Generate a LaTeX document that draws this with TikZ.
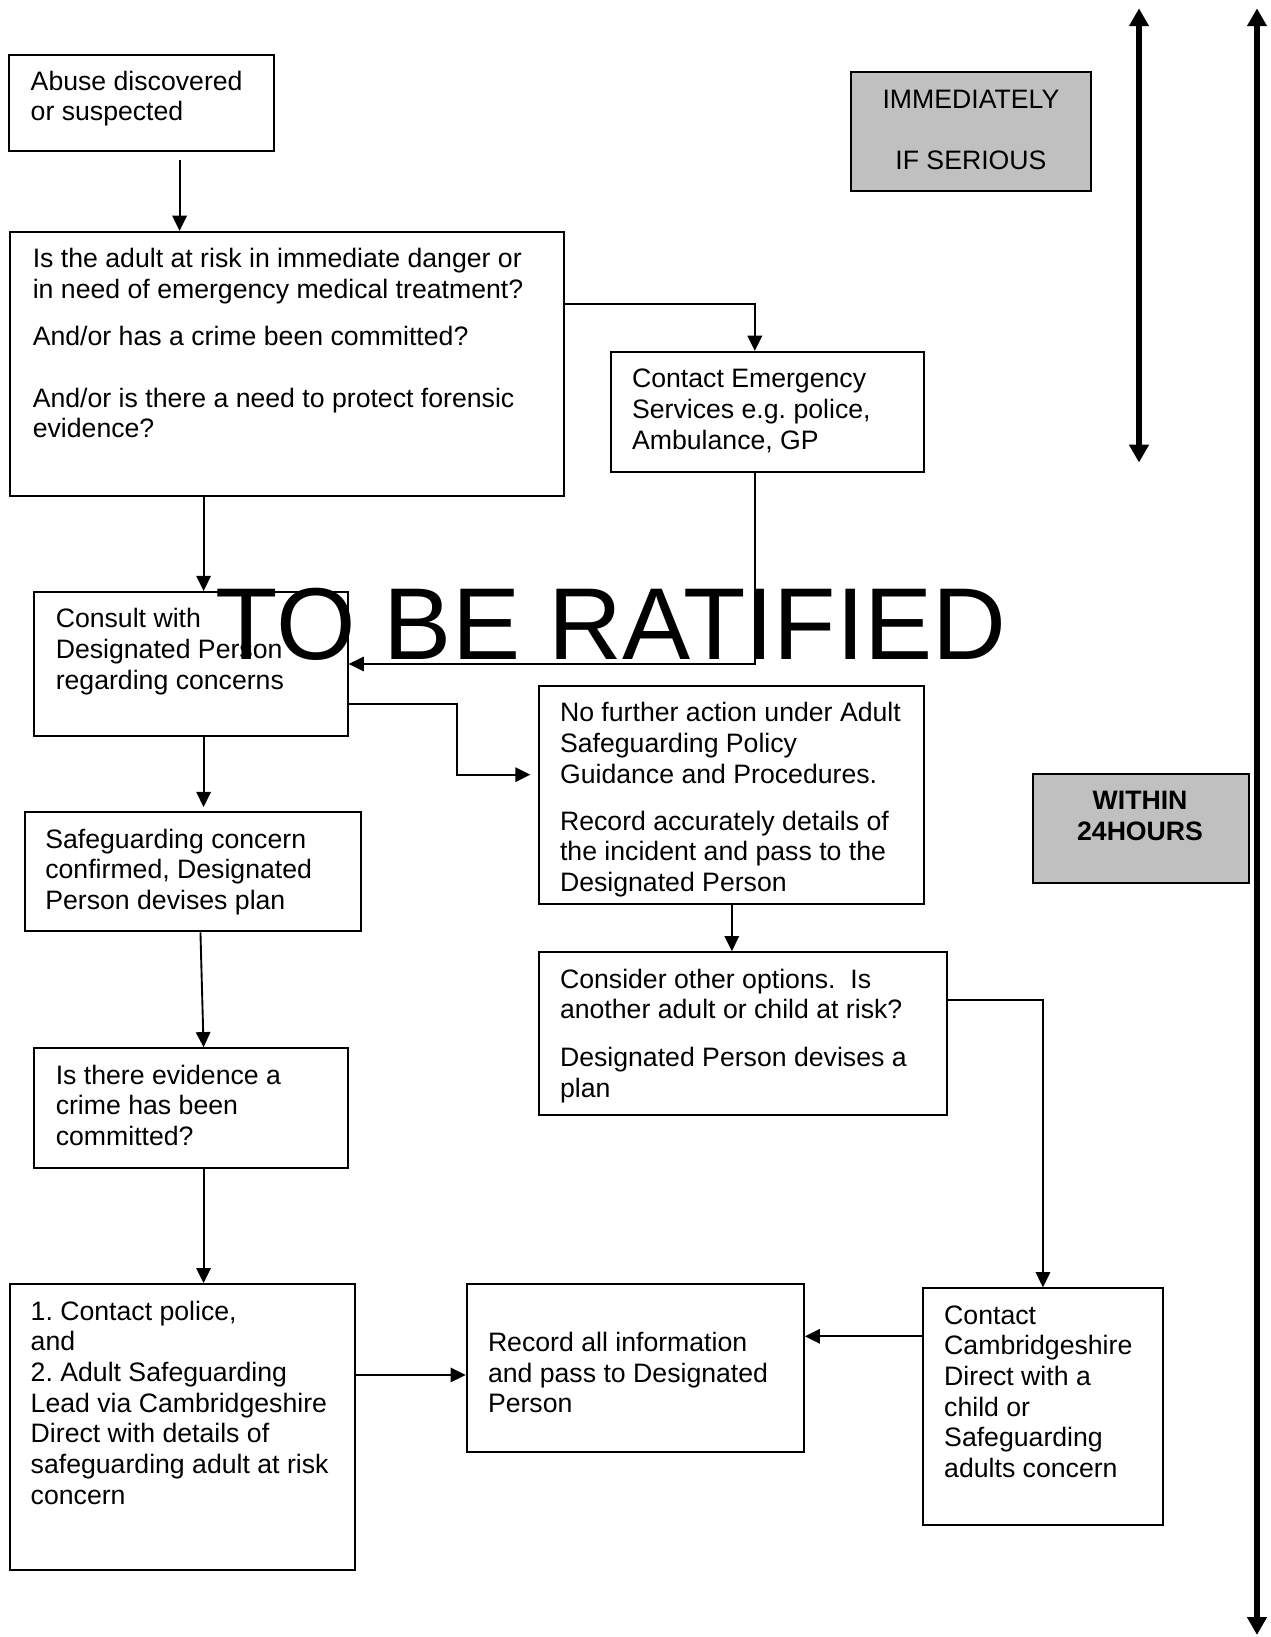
\documentclass[tikz,border=0pt]{standalone}
\usepackage{fontspec}
\setmainfont{Liberation Sans}
\usetikzlibrary{arrows.meta,fit}
\definecolor{silverg}{RGB}{192,192,192}
\frenchspacing
\begin{document}
\begin{tikzpicture}[x=0.47pt,y=-0.47pt,
  box/.style={draw, line width=0.9pt, inner sep=0pt},
  gbox/.style={box, fill=silverg},
  txt/.style={anchor=north west, inner sep=0pt, align=left, font=\fontsize{12}{13.8}\selectfont},
  ctxt/.style={anchor=north, inner sep=0pt, align=center, font=\fontsize{12}{13.8}\selectfont},
  arr/.style={line width=0.85pt, -{Triangle[length=6.8pt,width=6.5pt]}},
  big/.style={line width=3pt, {Triangle[length=8pt,width=8.5pt]}-{Triangle[length=8pt,width=8.5pt]}}]
\useasboundingbox (0,0) rectangle (1217,1568);

% boxes
\node[box, fit={(9,53) (262,145)}] (A) {};
\node[box, fit={(10,222) (540,475)}] (B) {};
\node[box, fit={(585,337) (885,452)}] (C) {};
\node[box, fit={(33,567) (333,705)}] (D) {};
\node[box, fit={(516,657) (885,866)}] (E) {};
\node[box, fit={(516,912) (907,1068)}] (F) {};
\node[box, fit={(24,778) (346,892)}] (G) {};
\node[box, fit={(33,1004) (333,1119)}] (H) {};
\node[box, fit={(10,1230) (340,1504)}] (I) {};
\node[box, fit={(447,1230) (770,1391)}] (K) {};
\node[box, fit={(884,1234) (1114,1461)}] (J) {};
\node[gbox, fit={(815,69) (1045,183)}] (G1) {};
\node[gbox, fit={(989,741) (1196,846)}] (G2) {};

% texts
\node[txt] (tA) at (29,65.5) {\strut Abuse discovered\\or suspected};
\node[txt] (tB) at (31,235.5) {\strut Is the adult at risk in immediate danger or\\in need of emergency medical treatment?\\[7.4pt]And/or has a crime been committed?\\[14pt]And/or is there a need to protect forensic\\evidence?};
\node[txt] (tC) at (605,350.5) {\strut Contact Emergency\\Services e.g. police,\\Ambulance, GP};
\node[txt] (tD) at (53,580.5) {\strut Consult with\\Designated Person\\regarding concerns};
\node[txt] (tE) at (536,670.5) {\strut No further action under Adult\\Safeguarding Policy\\Guidance and Procedures.\\[7.4pt]Record accurately details of\\the incident and pass to the\\Designated Person};
\node[txt] (tF) at (536,925.5) {\strut Consider other options.\ \ Is\\another adult or child at risk?\\[7.9pt]Designated Person devises a\\plan};
\node[txt] (tG) at (43,791.5) {\strut Safeguarding concern\\confirmed, Designated\\Person devises plan};
\node[txt] (tH) at (53,1017.5) {\strut Is there evidence a\\crime has been\\committed?};
\node[txt] (tI) at (29,1243.5) {\strut 1. Contact police,\\and\\2. Adult Safeguarding\\Lead via Cambridgeshire\\Direct with details of\\safeguarding adult at risk\\concern};
\node[txt] (tK) at (467,1273.5) {\strut Record all information\\and pass to Designated\\Person};
\node[txt] (tJ) at (904,1247.5) {\strut Contact\\Cambridgeshire\\Direct with a\\child or\\Safeguarding\\adults concern};
\node[ctxt] (tG1) at (930,82.5) {\strut IMMEDIATELY\\[13.8pt]IF SERIOUS};
\node[ctxt, font=\fontsize{12}{13.8}\selectfont\bfseries] (tG2) at (1092,754.5) {\strut WITHIN\\24HOURS};

% connectors
\coordinate (c1) at (172,153);
\draw[arr] (c1) -- (c1 |- B.north);
\coordinate (c2) at (723,291);
\draw[arr] (B.east |- c2) -| (c2 |- C.north);
\coordinate (c3) at (723,636);
\draw[arr] (c3 |- C.south) |- (D.east |- c3);
\coordinate (c4) at (195,520);
\draw[arr] (B.south -| c4) -- (D.north -| c4);
\coordinate (c5) at (438,674);
\coordinate (c5b) at (508,742);
\draw[arr] (D.east |- c5) -- (c5) |- (c5b);
\coordinate (c6) at (195,773);
\draw[arr] (D.south -| c6) -- (c6);
\coordinate (c7a) at (192,892);
\coordinate (c7b) at (195,950);
\draw[arr] (G.south -| c7a) -- (H.north -| c7b);
\draw[arr] (H.south -| c7b) -- (I.north -| c7b);
\coordinate (c9) at (400,1317);
\draw[arr] (I.east |- c9) -- (K.west |- c9);
\coordinate (c10) at (820,1280);
\draw[arr] (J.west |- c10) -- (K.east |- c10);
\coordinate (c11) at (701,890);
\draw[arr] (E.south -| c11) -- (F.north -| c11);
\coordinate (c12) at (999,958);
\draw[arr] (F.east |- c12) -| (c12 |- J.north);

% time-scale arrows
\coordinate (t1a) at (1091,8);
\coordinate (t1b) at (1091,443);
\draw[big] (t1a) -- (t1b);
\coordinate (t2a) at (1204,8);
\coordinate (t2b) at (1204,1566);
\draw[big] (t2a) -- (t2b);

% watermark
\node[anchor=base west, inner sep=0pt, font=\fontsize{46}{50}\selectfont] (wm) at (206,632) {TO BE RATIFIED};
\end{tikzpicture}
\end{document}
